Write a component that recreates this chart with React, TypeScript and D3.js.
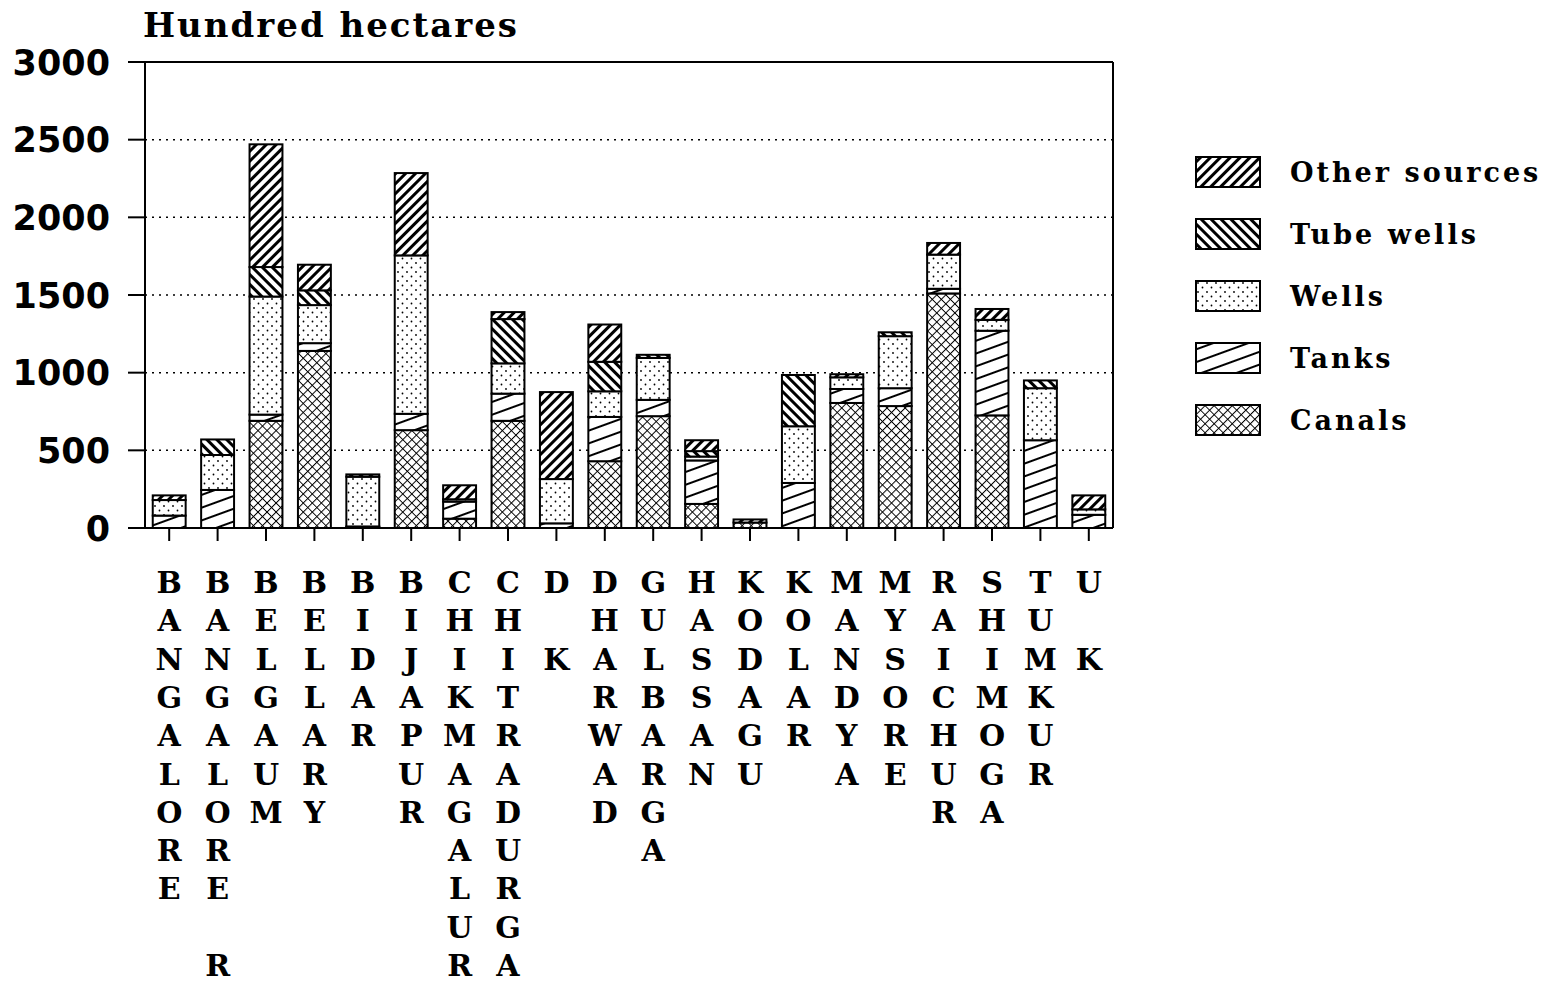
import React from 'react';
import * as d3 from 'd3';

const categories = ['BANGALORE', 'BANGALORE R', 'BELGAUM', 'BELLARY', 'BIDAR', 'BIJAPUR', 'CHIKMAGALUR', 'CHITRADURGA', 'D K', 'DHARWAD', 'GULBARGA', 'HASSAN', 'KODAGU', 'KOLAR', 'MANDYA', 'MYSORE', 'RAICHUR', 'SHIMOGA', 'TUMKUR', 'U K'];

const canals = [0, 0, 690, 1140, 5, 630, 60, 690, 0, 430, 720, 155, 35, 0, 805, 785, 1510, 725, 0, 0];
const tanks = [80, 245, 40, 50, 5, 105, 110, 175, 30, 285, 105, 280, 0, 290, 90, 115, 30, 545, 565, 85];
const wells = [100, 225, 760, 245, 320, 1020, 15, 195, 285, 165, 270, 25, 0, 365, 75, 335, 220, 70, 335, 35];
const tubeWells = [0, 100, 190, 95, 0, 0, 0, 285, 0, 190, 20, 35, 0, 330, 0, 25, 0, 0, 50, 0];
const otherSources = [30, 0, 790, 165, 15, 530, 90, 45, 560, 240, 0, 70, 20, 0, 20, 0, 75, 70, 0, 90];

const yTicks = [0, 500, 1000, 1500, 2000, 2500, 3000];

const seriesKeys = ['canals', 'tanks', 'wells', 'tube', 'other'];
const legendItems = [
  { key: 'other', label: 'Other sources' },
  { key: 'tube', label: 'Tube wells' },
  { key: 'wells', label: 'Wells' },
  { key: 'tanks', label: 'Tanks' },
  { key: 'canals', label: 'Canals' },
];

const rows = categories.map((c, i) => ({
  name: c,
  canals: canals[i],
  tanks: tanks[i],
  wells: wells[i],
  tube: tubeWells[i],
  other: otherSources[i],
}));

const left = 145, right = 1113, top = 62, bottom = 528;

export default function App() {
  const x = d3.scaleBand().domain(categories).range([left, right]).paddingInner(0.32).paddingOuter(0.16);
  const y = d3.scaleLinear().domain([0, 3000]).range([bottom, top]);
  const stacked = d3.stack().keys(seriesKeys)(rows as any);

  const serif = '"DejaVu Serif", serif';
  const sans = '"DejaVu Sans", sans-serif';

  return (
    <svg width={1550} height={982} style={{ position: 'absolute', left: 0, top: 0, background: '#fff' }}>
      <defs>
        <pattern id="p-other" width={10} height={7} patternUnits="userSpaceOnUse" patternTransform="rotate(-45)">
          <rect width={10} height={7} fill="#fff" />
          <line x1={0} y1={3.5} x2={10} y2={3.5} stroke="#000" strokeWidth={3} />
        </pattern>
        <pattern id="p-tube" width={10} height={7} patternUnits="userSpaceOnUse" patternTransform="rotate(45)">
          <rect width={10} height={7} fill="#fff" />
          <line x1={0} y1={3.5} x2={10} y2={3.5} stroke="#000" strokeWidth={3} />
        </pattern>
        <pattern id="p-tanks" width={20} height={12} patternUnits="userSpaceOnUse" patternTransform="rotate(-20)">
          <rect width={20} height={12} fill="#fff" />
          <line x1={0} y1={6} x2={20} y2={6} stroke="#000" strokeWidth={2} />
        </pattern>
        <pattern id="p-wells" width={9} height={9} patternUnits="userSpaceOnUse">
          <rect width={9} height={9} fill="#fff" />
          <circle cx={2} cy={2} r={0.9} fill="#000" />
          <circle cx={6.5} cy={6.5} r={0.9} fill="#000" />
        </pattern>
        <pattern id="p-canals" width={6.4} height={6.4} patternUnits="userSpaceOnUse" patternTransform="rotate(45)">
          <rect width={6.4} height={6.4} fill="#fff" />
          <path d="M0,0 H6.4 M0,0 V6.4" stroke="#000" strokeWidth={2} fill="none" />
        </pattern>
      </defs>

      {/* title */}
      <text x={143} y={37} fontFamily={serif} fontWeight="bold" fontSize={34} letterSpacing={2}>Hundred hectares</text>

      {/* grid */}
      {yTicks.filter(t => t > 0 && t < 3000).map(t => (
        <line key={t} x1={left} x2={right} y1={y(t)} y2={y(t)} stroke="#000" strokeWidth={1.5} strokeDasharray="2,5" />
      ))}

      {/* frame */}
      <line x1={left} x2={right} y1={y(3000)} y2={y(3000)} stroke="#000" strokeWidth={2} />
      <line x1={right} x2={right} y1={top} y2={bottom} stroke="#000" strokeWidth={2} />

      {/* bars */}
      {stacked.map((s: any) => (
        <g key={s.key}>
          {s.map((d: any, i: number) => {
            const h = y(d[0]) - y(d[1]);
            if (h <= 0) return null;
            return (
              <rect key={i} x={x(categories[i])} y={y(d[1])} width={x.bandwidth()} height={h}
                fill={`url(#p-${s.key})`} stroke="#000" strokeWidth={2} />
            );
          })}
        </g>
      ))}

      {/* y axis */}
      <line x1={left} x2={left} y1={top} y2={bottom} stroke="#000" strokeWidth={2} />
      {yTicks.map(t => (
        <g key={t}>
          <line x1={128} x2={left} y1={y(t)} y2={y(t)} stroke="#000" strokeWidth={2} />
          <text x={110} y={y(t)} dy="0.36em" textAnchor="end" fontFamily={sans} fontWeight="bold" fontSize={35}>{t}</text>
        </g>
      ))}

      {/* x axis */}
      <line x1={left} x2={right} y1={bottom} y2={bottom} stroke="#000" strokeWidth={2} />
      {categories.map(c => {
        const cx = (x(c) as number) + x.bandwidth() / 2;
        return (
          <g key={c}>
            <line x1={cx} x2={cx} y1={bottom} y2={bottom + 13} stroke="#000" strokeWidth={2} />
            {c.split('').map((ch, k) => ch === ' ' ? null : (
              <text key={k} x={cx} y={593 + k * 38.3} textAnchor="middle" fontFamily={serif} fontWeight="bold" fontSize={30}>{ch}</text>
            ))}
          </g>
        );
      })}

      {/* legend */}
      {legendItems.map((it, i) => (
        <g key={it.key} transform={`translate(1196,${157 + i * 62})`}>
          <rect width={64} height={30} fill={`url(#p-${it.key})`} stroke="#000" strokeWidth={2} />
          <text x={94} y={25} fontFamily={serif} fontWeight="bold" fontSize={27} letterSpacing={3}>{it.label}</text>
        </g>
      ))}
    </svg>
  );
}
